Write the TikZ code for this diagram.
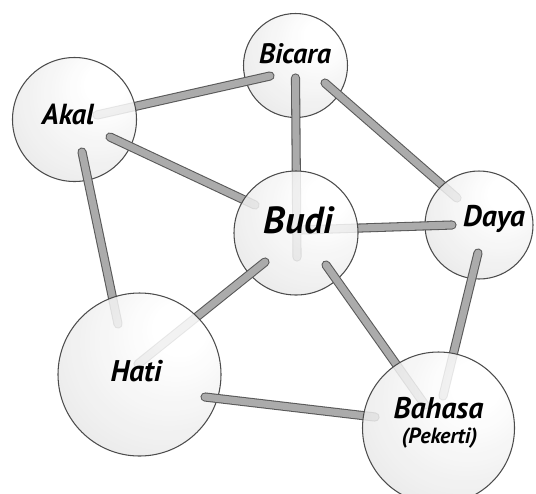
\documentclass[tikz,border=0pt]{standalone}
\usepackage{fontspec}
\setmainfont{PT Sans}
\usetikzlibrary{calc}

\pgfdeclareradialshading{ballgray}{\pgfpoint{14bp}{16bp}}{%
  color(0bp)=(white); color(8bp)=(white); color(36bp)=(black!9); color(70bp)=(black!19)}

\begin{document}
\begin{tikzpicture}[
    ball/.style={circle, draw=black!70, line width=0.6pt, shading=ballgray,
                 fill opacity=0.85, inner sep=0pt},
    rod/.style={line width=0.6pt, draw=black!65, double=black!33,
                double distance=4pt, line cap=round},
    word/.style={anchor=base, inner sep=0pt,
                 font=\bfseries\itshape\fontsize{#1}{#1}\selectfont}
]
\useasboundingbox (0,0) rectangle (10.72,9.86);

% sphere centres
\coordinate (akal) at (1.49,7.47);
\coordinate (bicara) at (5.91,8.55);
\coordinate (budi) at (5.92,5.20);
\coordinate (daya) at (9.58,5.36);
\coordinate (hati) at (2.79,2.37);
\coordinate (bahasa) at (8.77,1.30);

% spheres and rods, back to front
\node[ball, minimum size=2.08cm] (bicara) at (bicara) {};
\draw[rod] ($(bicara)+(-0.51,-0.21)$) -- ($(akal)+(0.45,0.09)$);
\draw[rod] ($(bicara)+(0.59,-0.35)$) -- ($(daya)+(-0.44,0.54)$);
\node[ball, minimum size=2.48cm] (akal) at (akal) {};
\node[ball, minimum size=2.16cm] (daya) at (daya) {};
\draw[rod] ($(akal)+(0.71,-0.35)$) -- ($(budi)+(-0.82,0.56)$);
\draw[rod] ($(akal)+(0.15,-0.65)$) -- ($(hati)+(-0.43,1.01)$);
\draw[rod] ($(bicara)+(0,-0.25)$) -- ($(budi)+(0.02,-0.48)$);
\draw[rod] ($(daya)+(-0.54,0)$) -- ($(budi)+(0.08,0.06)$);
\draw[rod] ($(daya)+(-0.02,-0.56)$) -- ($(bahasa)+(0.09,0.64)$);
\node[ball, minimum size=2.48cm] (budi) at (budi) {};
\draw[rod] ($(budi)+(-0.62,-0.58)$) -- ($(hati)+(-0.03,0.21)$);
\draw[rod] ($(budi)+(0.6,-0.64)$) -- ($(bahasa)+(-0.27,0.46)$);
\node[ball, minimum size=3.26cm] (hati) at (hati) {};
\draw[rod] ($(hati)+(1.31,-0.45)$) -- ($(bahasa)+(-1.27,0.22)$);
\node[ball, minimum size=3.04cm] (bahasa) at (bahasa) {};

% labels
\node[word=16.5] (akal-t) at ($(akal)+(-0.13,-0.09)$) {Akal};
\node[word=16] (bicara-t) at ($(bicara)+(-0.01,0.05)$) {Bicara};
\node[word=21.5] (budi-t) at ($(budi)+(0.05,0)$) {Budi};
\node[word=17] (daya-t) at ($(daya)+(0.30,-0.02)$) {Daya};
\node[word=17] (hati-t) at ($(hati)+(-0.07,-0.13)$) {Hati};
\node[word=17] (bahasa-t) at ($(bahasa)+(0,0.19)$) {Bahasa};
\node[word=12.5] (pekerti-t) at ($(bahasa)+(0.02,-0.30)$) {(Pekerti)};
\end{tikzpicture}
\end{document}
